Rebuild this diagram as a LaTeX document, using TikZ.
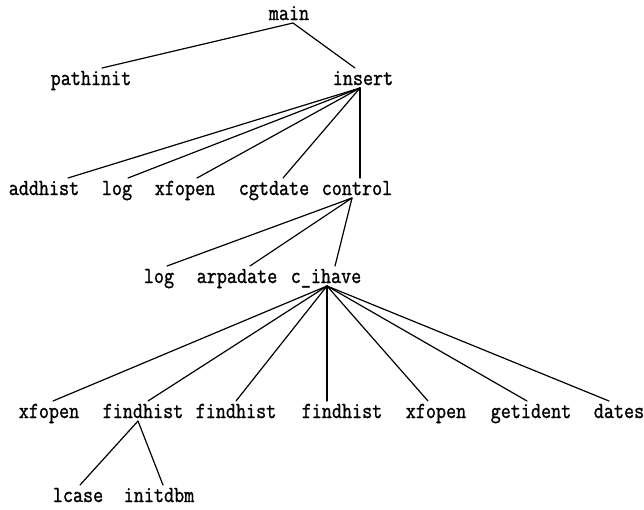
\documentclass[tikz,border=0pt]{standalone}
\usepackage{fontspec}
\newfontfamily\callfont[FakeStretch=0.85,FakeBold=1.2]{Latin Modern Mono}
\begin{document}
\begin{tikzpicture}[x=1pt,y=-1pt,
    fn/.style={font=\callfont\fontsize{23}{24}\selectfont,
      text height=15pt, text depth=1pt, inner xsep=1pt, inner ysep=2pt, outer sep=0pt},
    call/.style={line width=1.2pt, line cap=round}]
  \useasboundingbox[fill=white] (0,0) rectangle (644,509);
  % top
  \node[fn] (main) at (289,13) {main};
  \node[fn] (pathinit) at (91,78) {pathinit};
  \node[fn] (insert) at (363,78) {insert};
  % called from insert
  \node[fn] (addhist) at (44,188) {addhist};
  \node[fn] (logA) at (117,188) {log};
  \node[fn] (xfopenA) at (185,188) {xfopen};
  \node[fn] (cgtdate) at (274,188) {cgtdate};
  \node[fn] (control) at (357,188) {control};
  % called from control
  \node[fn] (logB) at (159,276) {log};
  \node[fn] (arpadate) at (237,276) {arpadate};
  \node[fn] (cihave) at (326,276) {c\_ihave};
  % called from c_ihave
  \node[fn] (xfopenB) at (49,411) {xfopen};
  \node[fn] (findhistA) at (143,411) {findhist};
  \node[fn] (findhistB) at (236,411) {findhist};
  \node[fn] (findhistC) at (342,411) {findhist};
  \node[fn] (xfopenC) at (436,411) {xfopen};
  \node[fn] (getident) at (531,411) {getident};
  \node[fn] (dates) at (619,411) {dates};
  % called from findhist
  \node[fn] (lcase) at (78,495) {lcase};
  \node[fn] (initdbm) at (159,495) {initdbm};

  \draw[call] ([xshift=4pt]main.south) -- ([xshift=11pt]pathinit.north);
  \draw[call] ([xshift=4pt]main.south) -- ([xshift=-8pt]insert.north);

  \draw[call] ([xshift=-3pt]insert.south) -- ([xshift=24pt]addhist.north);
  \draw[call] ([xshift=-3pt]insert.south) -- ([xshift=11pt]logA.north);
  \draw[call] ([xshift=-3pt]insert.south) -- ([xshift=12pt]xfopenA.north);
  \draw[call] ([xshift=-3pt]insert.south) -- ([xshift=9pt]cgtdate.north);
  \draw[call] ([xshift=-3pt]insert.south) -- ([xshift=3pt]control.north);

  \draw[call] ([xshift=-5pt]control.south) -- ([xshift=8pt]logB.north);
  \draw[call] ([xshift=-5pt]control.south) -- ([xshift=13pt]arpadate.north);
  \draw[call] ([xshift=-5pt]control.south) -- ([xshift=9pt]cihave.north);

  \draw[call] ([xshift=1pt]cihave.south) -- ([xshift=4pt]xfopenB.north);
  \draw[call] ([xshift=1pt]cihave.south) -- ([xshift=5pt]findhistA.north);
  \draw[call] ([xshift=1pt]cihave.south) -- (findhistB.north);
  \draw[call] ([xshift=1pt]cihave.south) -- ([xshift=-15pt]findhistC.north);
  \draw[call] ([xshift=1pt]cihave.south) -- ([xshift=-8pt]xfopenC.north);
  \draw[call] ([xshift=1pt]cihave.south) -- ([xshift=-4pt]getident.north);
  \draw[call] ([xshift=1pt]cihave.south) -- ([xshift=-10pt]dates.north);

  \draw[call] ([xshift=-5pt]findhistA.south) -- ([xshift=2pt]lcase.north);
  \draw[call] ([xshift=-5pt]findhistA.south) -- ([xshift=4pt]initdbm.north);
\end{tikzpicture}
\end{document}
